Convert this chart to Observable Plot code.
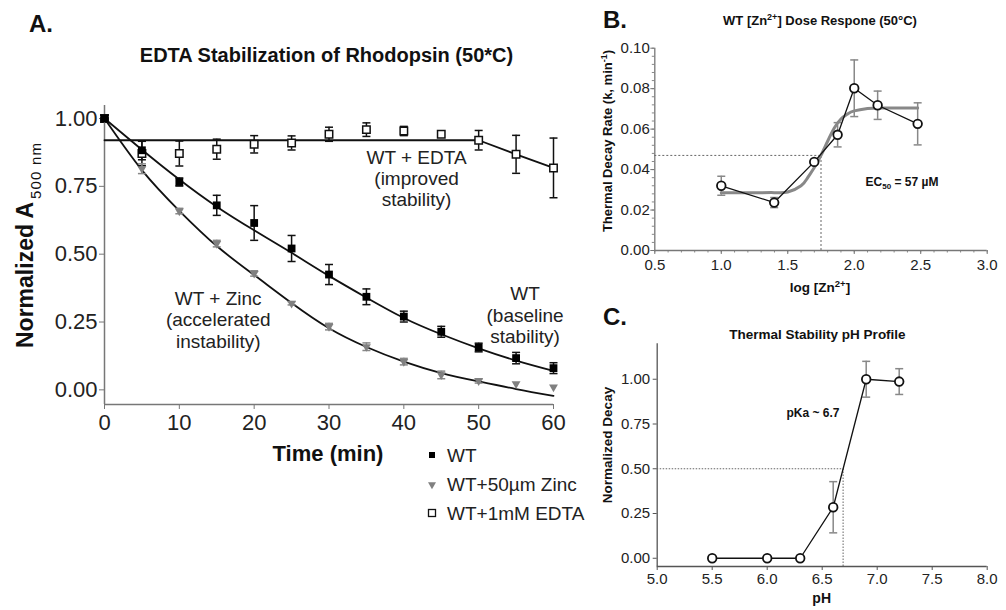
<!DOCTYPE html>
<html>
<head>
<meta charset="utf-8">
<script src="https://cdn.jsdelivr.net/npm/d3@7"></script>
<script src="https://cdn.jsdelivr.net/npm/@observablehq/plot@0.6"></script>
<style>
  html, body { margin: 0; padding: 0; background: #fff; }
  #root { position: relative; width: 1006px; height: 610px; overflow: hidden; font-family: "Liberation Sans", Arial, sans-serif; }
  #root > svg, #root > figure { position: absolute; margin: 0; }
</style>
</head>
<body>
<div id="root"></div>
<script>
// ---------- Panel A data ----------
const timeMin  = [0, 5, 10, 15, 20, 25, 30, 35, 40, 45, 50, 55, 60];
const wtMean   = [1.00, 0.883, 0.766, 0.680, 0.615, 0.521, 0.425, 0.343, 0.270, 0.214, 0.156, 0.117, 0.080];
const wtErr    = [0, 0.035, 0.015, 0.037, 0.064, 0.048, 0.037, 0.029, 0.020, 0.020, 0.016, 0.021, 0.020];
const zincMean = [1.00, 0.815, 0.659, 0.539, 0.429, 0.319, 0.233, 0.159, 0.104, 0.055, 0.033, 0.022, 0.010];
const zincErr  = [0, 0.018, 0.010, 0.012, 0.010, 0.006, 0.012, 0.014, 0.012, 0.014, 0.008, 0, 0];
const edtaMean = [1.00, 0.871, 0.871, 0.887, 0.905, 0.910, 0.942, 0.959, 0.954, 0.942, 0.920, 0.868, 0.818];
const edtaErr  = [0, 0.045, 0.046, 0.037, 0.032, 0.026, 0.026, 0.025, 0.017, 0, 0.036, 0.070, 0.110];
const wtFit    = [1.00, 0.885, 0.775, 0.675, 0.588, 0.505, 0.420, 0.340, 0.265, 0.205, 0.153, 0.108, 0.070];
const zincFit  = [1.00, 0.810, 0.660, 0.530, 0.423, 0.320, 0.227, 0.158, 0.104, 0.062, 0.031, 0.003, -0.022];
const edtaFitTime = [0, 50, 55, 60];
const edtaFit     = [0.92, 0.92, 0.868, 0.818];
const xTicksA = [0, 10, 20, 30, 40, 50, 60];
const yTicksA = [0, 0.25, 0.5, 0.75, 1.0];
const annoText  = ["WT + EDTA\n(improved\nstability)", "WT + Zinc\n(accelerated\ninstability)", "WT\n(baseline\nstability)"];
const annoTime  = [41.7, 15.2, 56.2];
const annoValue = [0.78, 0.259, 0.277];
const legendLabels = ["WT", "WT+50\u00b5m Zinc", "WT+1mM EDTA"];

// ---------- Panel B data ----------
const logZn   = [1.0, 1.398, 1.699, 1.875, 2.0, 2.176, 2.477];
const rateK   = [0.0320, 0.0237, 0.0438, 0.0572, 0.0802, 0.0718, 0.0626];
const rateErr = [0.0047, 0.0025, 0, 0.0060, 0.0140, 0.0070, 0.0104];
const fitLogZn = [1.0, 1.2, 1.4, 1.5, 1.6, 1.65, 1.7, 1.75, 1.8, 1.85, 1.9, 1.95, 2.0, 2.1, 2.2, 2.477];
const fitRateK = [0.0285, 0.0285, 0.0286, 0.0289, 0.0320, 0.0360, 0.0410, 0.0470, 0.0540, 0.0605, 0.0650, 0.0675, 0.0690, 0.0702, 0.0705, 0.0705];
const ec50Log = 1.75, ec50Rate = 0.047;
const xTicksB = [0.5, 1.0, 1.5, 2.0, 2.5, 3.0];
const yTicksB = [0, 0.02, 0.04, 0.06, 0.08, 0.10];

// ---------- Panel C data ----------
const pHvals   = [5.5, 6.0, 6.3, 6.6, 6.9, 7.2];
const decay    = [0, 0, 0, 0.285, 1.0, 0.987];
const decayErr = [0, 0, 0, 0.143, 0.100, 0.072];
const pKa = 6.69, halfDecay = 0.5;
const xTicksC = [5.0, 5.5, 6.0, 6.5, 7.0, 7.5, 8.0];
const yTicksC = [0, 0.25, 0.5, 0.75, 1.0];

// ---------- helpers ----------
const FONT = "Liberation Sans, Arial, sans-serif";
const rows = (xs, ys, es) => xs.map((x, i) => ({x, y: ys[i], e: es ? es[i] : 0}));
const cap = {draw(ctx, size) { const r = Math.sqrt(size / Math.PI); ctx.moveTo(-r, 0); ctx.lineTo(r, 0); }};
function errorBars(data, color, w = 1.5, r = 4) {
  const d = data.filter(v => v.e > 0);
  return [
    Plot.ruleX(d, {x: "x", y1: v => v.y - v.e, y2: v => v.y + v.e, stroke: color, strokeWidth: w}),
    Plot.dot(d, {x: "x", y: v => v.y - v.e, symbol: cap, r, stroke: color, fill: "none", strokeWidth: w}),
    Plot.dot(d, {x: "x", y: v => v.y + v.e, symbol: cap, r, stroke: color, fill: "none", strokeWidth: w})
  ];
}

const root = document.getElementById("root");

// ---------- Panel A ----------
const wt = rows(timeMin, wtMean, wtErr);
const zinc = rows(timeMin, zincMean, zincErr);
const edta = rows(timeMin, edtaMean, edtaErr);
const yMinA = -0.054;
const plotA = Plot.plot({
  width: 590, height: 610,
  marginLeft: 104, marginRight: 37, marginTop: 105, marginBottom: 206,
  x: {domain: [0, 60]},
  y: {domain: [yMinA, 1.048]},
  style: {fontFamily: FONT, background: "transparent", overflow: "visible"},
  marks: [
    Plot.axisX({ticks: xTicksA, tickFormat: d => String(d), tickSize: 5, tickPadding: 5, stroke: "#777", fill: "#222", fontSize: 22, label: null}),
    Plot.axisY({ticks: yTicksA, tickFormat: ".2f", tickSize: 5, tickPadding: 2, stroke: "#777", fill: "#222", fontSize: 22, label: null}),
    Plot.ruleX([0], {stroke: "#777", strokeWidth: 1.5}),
    Plot.ruleY([yMinA], {stroke: "#777", strokeWidth: 1.5}),
    Plot.line(rows(edtaFitTime, edtaFit), {x: "x", y: "y", stroke: "#111", strokeWidth: 1.8}),
    Plot.line(rows(timeMin, zincFit), {x: "x", y: "y", curve: "natural", stroke: "#111", strokeWidth: 1.8}),
    Plot.line(rows(timeMin, wtFit), {x: "x", y: "y", curve: "natural", stroke: "#111", strokeWidth: 1.8}),
    ...errorBars(edta, "#111"),
    ...errorBars(zinc, "#888"),
    ...errorBars(wt, "#111"),
    Plot.dot(edta, {x: "x", y: "y", symbol: "square", r: 4.2, fill: "#fff", stroke: "#111", strokeWidth: 1.5}),
    Plot.dot(zinc, {x: "x", y: "y", symbol: "triangle", rotate: 180, r: 3.3, fill: "#808080"}),
    Plot.dot(wt, {x: "x", y: "y", symbol: "square", r: 4.4, fill: "#000"}),
    Plot.text(annoText, {x: (d, i) => annoTime[i], y: (d, i) => annoValue[i], text: d => d, fontSize: 19, lineHeight: 1.12, fill: "#222"})
  ]
});
plotA.style.left = "0px"; plotA.style.top = "0px";
root.appendChild(plotA);

// ---------- Panel B ----------
const ptsB = rows(logZn, rateK, rateErr);
const plotB = Plot.plot({
  width: 416, height: 300,
  marginLeft: 64.3, marginRight: 19.3, marginTop: 47.7, marginBottom: 50,
  x: {domain: [0.5, 3.0]},
  y: {domain: [0, 0.10]},
  style: {fontFamily: FONT, background: "transparent", overflow: "visible"},
  marks: [
    Plot.axisX({ticks: d3.range(0.5, 3.001, 0.1), tickFormat: () => "", tickSize: 2.5, stroke: "#888", label: null}),
    Plot.axisY({ticks: d3.range(0, 0.1001, 0.004), tickFormat: () => "", tickSize: 2.5, stroke: "#888", label: null}),
    Plot.axisX({ticks: xTicksB, tickFormat: ".1f", tickSize: 4, tickPadding: 5, stroke: "#777", fill: "#222", fontSize: 15, label: null}),
    Plot.axisY({ticks: yTicksB, tickFormat: ".2f", tickSize: 4, tickPadding: 1, stroke: "#777", fill: "#222", fontSize: 15, label: null}),
    Plot.ruleX([0.5], {stroke: "#777", strokeWidth: 1.3}),
    Plot.ruleY([0], {stroke: "#777", strokeWidth: 1.3}),
    Plot.ruleY([{y: ec50Rate, x1: 0.5, x2: ec50Log}], {y: "y", x1: "x1", x2: "x2", stroke: "#666", strokeDasharray: "2,2"}),
    Plot.ruleX([{x: ec50Log, y1: 0, y2: ec50Rate}], {x: "x", y1: "y1", y2: "y2", stroke: "#666", strokeDasharray: "2,2"}),
    ...errorBars(ptsB, "#888", 1.5, 4),
    Plot.line(rows(fitLogZn, fitRateK), {x: "x", y: "y", curve: "natural", stroke: "#888", strokeWidth: 3}),
    Plot.line(ptsB, {x: "x", y: "y", stroke: "#111", strokeWidth: 1.3}),
    Plot.dot(ptsB, {x: "x", y: "y", r: 4.3, fill: "#fff", stroke: "#111", strokeWidth: 1.8})
  ]
});
plotB.style.left = "590px"; plotB.style.top = "0px";
root.appendChild(plotB);

// ---------- Panel C ----------
const ptsC = rows(pHvals, decay, decayErr);
const yMinC = -0.046;
const plotC = Plot.plot({
  width: 416, height: 310,
  marginLeft: 66.7, marginRight: 19.3, marginTop: 43.3, marginBottom: 44,
  x: {domain: [5.0, 8.0]},
  y: {domain: [yMinC, 1.198]},
  style: {fontFamily: FONT, background: "transparent", overflow: "visible"},
  marks: [
    Plot.axisX({ticks: xTicksC, tickFormat: ".1f", tickSize: 4, tickPadding: 3, stroke: "#555", fill: "#222", fontSize: 15, label: null}),
    Plot.axisY({ticks: yTicksC, tickFormat: ".2f", tickSize: 4, tickPadding: 3, stroke: "#555", fill: "#222", fontSize: 15, label: null}),
    Plot.ruleX([5.0], {stroke: "#555", strokeWidth: 1.3}),
    Plot.ruleY([yMinC], {stroke: "#555", strokeWidth: 1.3}),
    Plot.ruleY([{y: halfDecay, x1: 5.0, x2: pKa}], {y: "y", x1: "x1", x2: "x2", stroke: "#666", strokeDasharray: "1.5,1.5"}),
    Plot.ruleX([{x: pKa, y1: yMinC, y2: halfDecay}], {x: "x", y1: "y1", y2: "y2", stroke: "#666", strokeDasharray: "1.5,1.5"}),
    ...errorBars(ptsC, "#888", 1.5, 4),
    Plot.line(ptsC, {x: "x", y: "y", stroke: "#111", strokeWidth: 1.3}),
    Plot.dot(ptsC, {x: "x", y: "y", r: 4.3, fill: "#fff", stroke: "#111", strokeWidth: 1.8})
  ]
});
plotC.style.left = "590px"; plotC.style.top = "300px";
root.appendChild(plotC);

// ---------- Overlay text (titles, labels, legend) ----------
const svg = d3.select(root).append("svg")
  .attr("width", 1006).attr("height", 610)
  .style("left", "0px").style("top", "0px")
  .attr("font-family", FONT).attr("fill", "#111");

function label(x, y, parts, {size = 12, weight = "bold", anchor = "start", rotate = false, fill = "#111"} = {}) {
  const t = svg.append("text")
    .attr("font-size", size).attr("font-weight", weight)
    .attr("text-anchor", anchor).attr("fill", fill);
  if (rotate) t.attr("transform", `translate(${x},${y}) rotate(-90)`);
  else t.attr("x", x).attr("y", y);
  (Array.isArray(parts) ? parts : [parts]).forEach(p => {
    if (typeof p === "string") t.append("tspan").text(p);
    else {
      const s = t.append("tspan").text(p.text);
      if (p.size) s.attr("font-size", p.size);
      if (p.dy) s.attr("dy", p.dy);
      if (p.weight) s.attr("font-weight", p.weight);
      if (p.spacing) s.attr("letter-spacing", p.spacing);
    }
  });
  return t;
}

// Panel letters
label(29, 31.6, "A.", {size: 24});
label(603, 27.6, "B.", {size: 24});
label(603, 324.6, "C.", {size: 24});

// Panel A texts
label(326.5, 62, "EDTA Stabilization of Rhodopsin (50*C)", {size: 20, anchor: "middle"});
label(328, 461, "Time (min)", {size: 22, anchor: "middle"});
label(33, 348, ["Normalized A", {text: "\u00a0", size: 10}, {text: "500 nm", size: 15, dy: 8, weight: "normal", spacing: 1.2}], {size: 23, rotate: true});

// Legend A
const legY = [455, 484.5, 513];
svg.append("rect").attr("x", 429).attr("y", legY[0] - 3).attr("width", 6).attr("height", 6).attr("fill", "#000");
svg.append("path").attr("d", d3.symbol(d3.symbolTriangle, 28)()).attr("transform", `translate(432,${legY[1]}) rotate(180)`).attr("fill", "#808080");
svg.append("rect").attr("x", 428.5).attr("y", legY[2] - 3.5).attr("width", 7).attr("height", 7).attr("fill", "#fff").attr("stroke", "#111").attr("stroke-width", 1.3);
legendLabels.forEach((s, i) => label(447, legY[i] + 6.8, s, {size: 19, weight: "normal", fill: "#222"}));

// Panel B texts
label(820, 24.7, ["WT [Zn", {text: "2+", size: 9, dy: -5}, {text: "] Dose Respone (50\u00b0C)", dy: 5}], {size: 13, anchor: "middle"});
label(611.7, 141, ["Thermal Decay Rate (k, min", {text: "-1", size: 9, dy: -5}, {text: ")", dy: 5}], {size: 13, anchor: "middle", rotate: true});
label(820, 291.8, ["log [Zn", {text: "2+", size: 9.5, dy: -5}, {text: "]", dy: 5}], {size: 13.5, anchor: "middle"});
label(902, 186.3, ["EC", {text: "50", size: 8, dy: 3}, {text: " = 57 \u00b5M", dy: -3}], {size: 12, anchor: "middle"});

// Panel C texts
label(817.5, 339, "Thermal Stability pH Profile", {size: 13.5, anchor: "middle"});
label(611.8, 445, "Normalized Decay", {size: 13.5, anchor: "middle", rotate: true});
label(821.7, 603, "pH", {size: 14, anchor: "middle"});
label(813, 417, "pKa ~ 6.7", {size: 12, anchor: "middle"});
</script>
</body>
</html>
